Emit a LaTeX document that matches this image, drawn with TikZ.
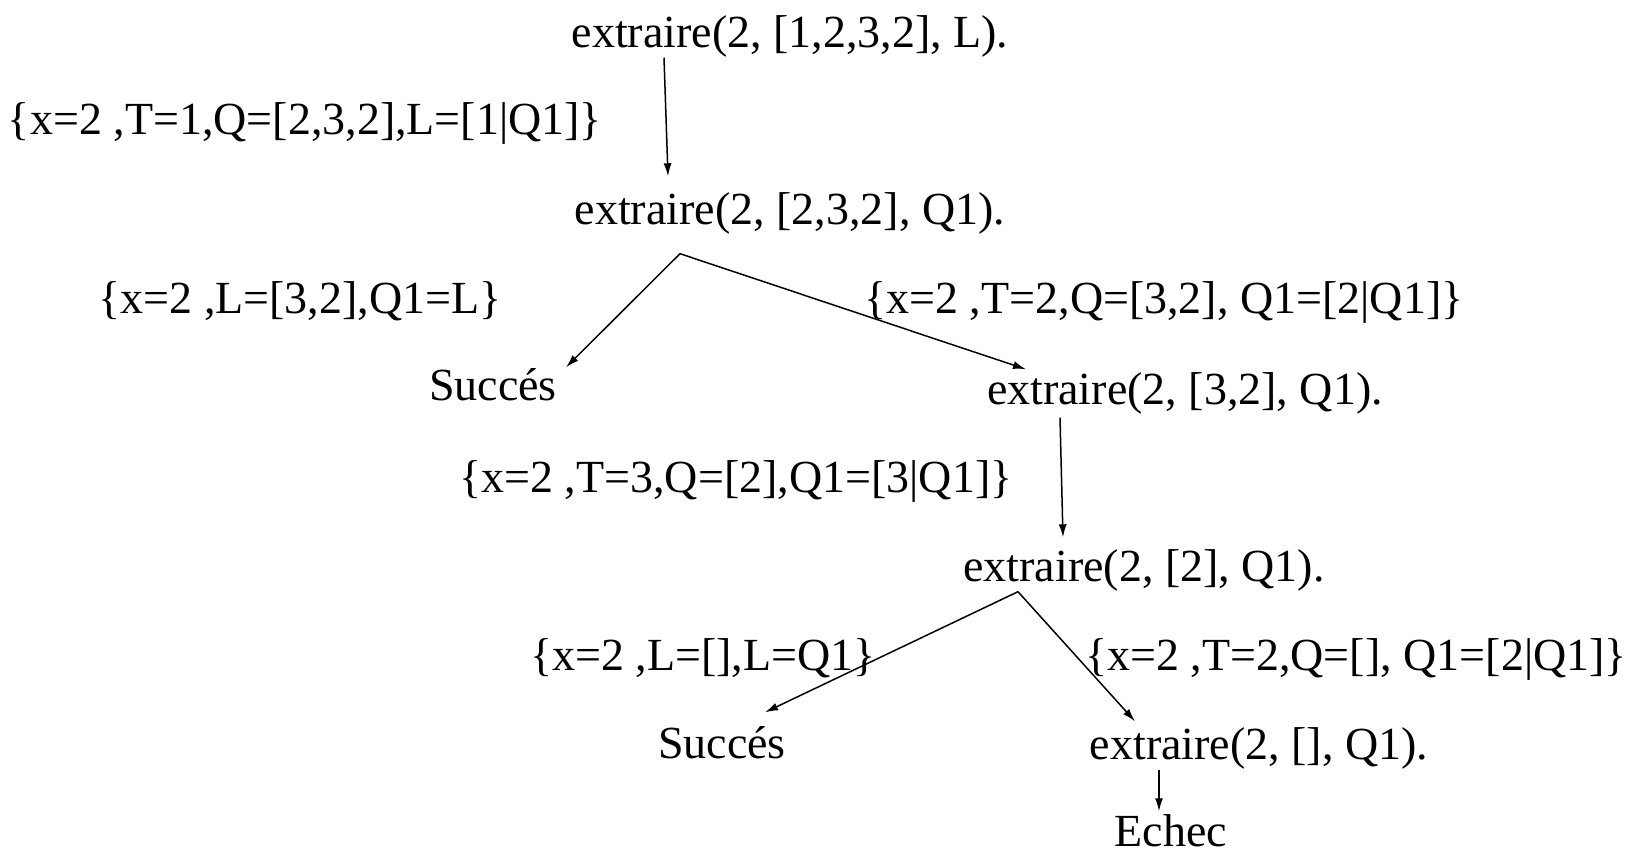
\documentclass[tikz,border=0pt]{standalone}
\usepackage{fontspec}
\setmainfont{Liberation Serif}
\usetikzlibrary{arrows.meta}
\begin{document}
\begin{tikzpicture}[x=1pt,y=-1pt,
  every node/.style={inner sep=0pt,font=\fontsize{46}{55}\selectfont,text height=32pt,text depth=9pt},
  conn/.style={line width=1.5pt,-{Latex[length=13pt,width=8pt]}}]
\useasboundingbox (0,0) rectangle (1633,856);
\node (n1) at (790,36) {extraire(2, [1,2,3,2], L).};
\node (l1) at (305,123) {\{x=2 ,T=1,Q=[2,3,2],L=[1|Q1]\}};
\node (n2) at (790,213) {extraire(2, [2,3,2], Q1).};
\node (l2) at (300,302) {\{x=2 ,L=[3,2],Q1=L\}};
\node (l3) at (1164,302) {\{x=2 ,T=2,Q=[3,2], Q1=[2|Q1]\}};
\node (s1) at (493,389) {Succés};
\node (n3) at (1185,393) {extraire(2, [3,2], Q1).};
\node (l4) at (736,481) {\{x=2 ,T=3,Q=[2],Q1=[3|Q1]\}};
\node (n4) at (1144,570) {extraire(2, [2], Q1).};
\node (l5) at (703,659) {\{x=2 ,L=[],L=Q1\}};
\node (l6) at (1356,659) {\{x=2 ,T=2,Q=[], Q1=[2|Q1]\}};
\node (s2) at (722,747) {Succés};
\node (n5) at (1259,748) {extraire(2, [], Q1).};
\node (e) at (1171,835) {Echec};
\draw[conn] ([xshift=-126pt,yshift=-1pt]n1.south) -- ([xshift=-122pt,yshift=16pt]n2.north);
\draw[conn] ([xshift=-110pt,yshift=-20pt]n2.south) -- ([xshift=73pt,yshift=1pt]s1.north);
\draw[conn] ([xshift=-110pt,yshift=-20pt]n2.south) -- ([xshift=-159pt,yshift=3pt]n3.north);
\draw[conn] ([xshift=-125pt,yshift=-4pt]n3.south) -- ([xshift=-81pt,yshift=12pt]n4.north);
\draw[conn] ([xshift=-126pt,yshift=-1pt]n4.south) -- ([xshift=43pt,yshift=14pt]s2.north);
\draw[conn] ([xshift=-126pt,yshift=-1pt]n4.south) -- ([xshift=-124pt,yshift=6pt]n5.north);
\draw[conn] ([xshift=-100pt,yshift=-1pt]n5.south) -- ([xshift=-12pt,yshift=3pt]e.north);
\end{tikzpicture}
\end{document}
